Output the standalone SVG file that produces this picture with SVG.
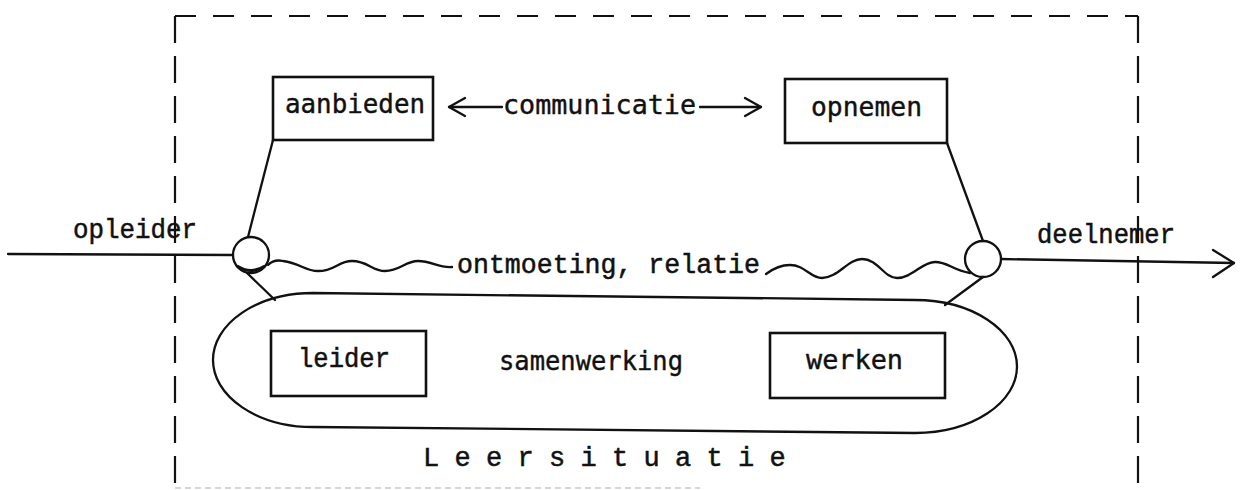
<svg xmlns="http://www.w3.org/2000/svg" width="1241" height="490" viewBox="0 0 1241 490">
  <style>
    .ln { fill: none; stroke: #111; stroke-width: 2.3; stroke-linecap: round; stroke-linejoin: round; }
    .box { fill: none; stroke: #111; stroke-width: 2.6; }
    .dash-h { fill: none; stroke: #111; stroke-width: 2.2; stroke-dasharray: 21 17; }
    .dash-v { fill: none; stroke: #111; stroke-width: 2.2; stroke-dasharray: 27 13; }
    .sans { font-family: "DejaVu Sans Mono", "Liberation Mono", monospace; font-size: 26px; fill: #111; stroke: #111; stroke-width: 0.4; }
    .mono { font-family: "Liberation Mono", "DejaVu Sans Mono", monospace; font-size: 27px; fill: #111; stroke: #111; stroke-width: 0.5; }
  </style>

  <rect width="1241" height="490" fill="#fff"/>

  <!-- boundary of the learning situation -->
  <g id="frame">
    <path class="dash-h" d="M175,16 H1138"/>
    <path class="dash-v" d="M175,16 V490"/>
    <path class="dash-v" d="M1138,16 V490"/>
    <path d="M175,488 H700" fill="none" stroke="#888" stroke-width="1.5" stroke-dasharray="6 4" opacity="0.45"/>
  </g>

  <!-- connectors -->
  <g id="connectors">
    <!-- incoming / outgoing axis -->
    <path class="ln" d="M8,254 L233,255"/>
    <path class="ln" d="M1001,259 L1234,263"/>
    <path class="ln" d="M1213,250 L1234,263 L1213,277"/>
    <!-- communication arrows -->
    <path class="ln" d="M449,107 H502"/>
    <path class="ln" d="M465,98 L449,107 L465,116"/>
    <path class="ln" d="M700,107 H761"/>
    <path class="ln" d="M745,98 L761,107 L745,116"/>
    <!-- box to circle links -->
    <path class="ln" d="M273,140 L248,237"/>
    <path class="ln" d="M247,273 L275,300"/>
    <path class="ln" d="M947,143 L983,241"/>
    <path class="ln" d="M983,277 L945,305"/>
    <!-- wavy relation line -->
    <path class="ln" d="M268,265 Q274,259 283,261 C300,263 305,271 318,271 C335,271 338,261 352,261 C368,261 372,271 385,271 C400,271 405,261 418,261 C432,261 438,268 452,267"/>
    <path class="ln" d="M766,274 C774,268 782,265 790,265 C805,265 810,278 822,278 C838,278 848,259 862,259 C878,259 884,278 897,278 C912,278 922,262 935,262 C948,262 952,270 970,273"/>
  </g>

  <g id="node-aanbieden">
    <rect class="box" x="273" y="77" width="160" height="63"/>
    <text class="sans" x="285" y="113" textLength="140" lengthAdjust="spacingAndGlyphs">aanbieden</text>
  </g>

  <g id="label-communicatie">
    <text class="sans" x="503" y="114" textLength="193" lengthAdjust="spacingAndGlyphs">communicatie</text>
  </g>

  <g id="node-opnemen">
    <rect class="box" x="785" y="79" width="162" height="64"/>
    <text class="sans" x="811" y="116" textLength="111" lengthAdjust="spacingAndGlyphs">opnemen</text>
  </g>

  <g id="node-opleider">
    <circle class="ln" cx="251" cy="255" r="18"/>
    <path d="M237,266 Q251,275 265,266" fill="none" stroke="#111" stroke-width="3"/>
    <text class="mono" x="73" y="238" textLength="124" lengthAdjust="spacingAndGlyphs">opleider</text>
  </g>

  <g id="node-deelnemer">
    <circle class="ln" cx="983" cy="259" r="18"/>
    <text class="mono" x="1037" y="243" textLength="138" lengthAdjust="spacingAndGlyphs">deelnemer</text>
  </g>

  <g id="label-relatie">
    <text class="mono" x="457" y="273" textLength="303" lengthAdjust="spacingAndGlyphs">ontmoeting, relatie</text>
  </g>

  <g id="node-samenwerking">
    <path class="ln" d="M313,293 L915,300 A102,66.5 0 0 1 915,433 L313,427 A100,67 0 0 1 313,293 Z"/>
    <text class="sans" x="499" y="370" textLength="184" lengthAdjust="spacingAndGlyphs">samenwerking</text>
  </g>

  <g id="node-leider">
    <rect class="box" x="271" y="331" width="155" height="65"/>
    <text class="mono" x="298" y="367" textLength="92" lengthAdjust="spacingAndGlyphs">leider</text>
  </g>

  <g id="node-werken">
    <rect class="box" x="770" y="333" width="175" height="65"/>
    <text class="sans" x="806" y="369" textLength="97" lengthAdjust="spacingAndGlyphs">werken</text>
  </g>

  <g id="label-leersituatie">
    <text class="mono" x="423" y="466" letter-spacing="15.3">Leersituatie</text>
  </g>
</svg>
